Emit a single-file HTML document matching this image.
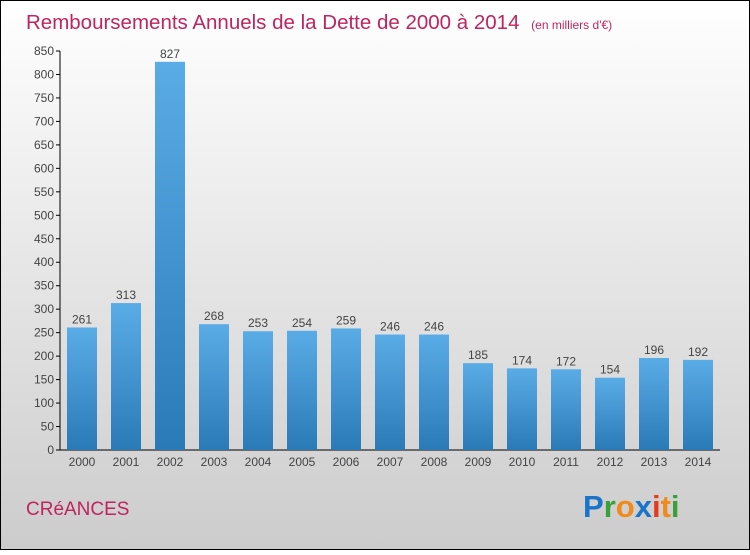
<!DOCTYPE html>
<html><head><meta charset="utf-8"><style>
html,body{margin:0;padding:0}
body{width:750px;height:550px;overflow:hidden;font-family:"Liberation Sans",sans-serif}
</style></head><body>
<svg width="750" height="550" xmlns="http://www.w3.org/2000/svg">
<defs>
<linearGradient id="bg" x1="0" y1="0" x2="0" y2="1"><stop offset="0" stop-color="#ffffff"/><stop offset="1" stop-color="#cccccc"/></linearGradient>
<linearGradient id="bar" x1="0" y1="0" x2="0" y2="1"><stop offset="0" stop-color="#5aace6"/><stop offset="1" stop-color="#2a7ab8"/></linearGradient>
</defs>
<rect x="0.5" y="0.5" width="749" height="549" fill="url(#bg)" stroke="#000"/>
<text x="26" y="29" font-size="20.5" fill="#c0245e">Remboursements Annuels de la Dette de 2000 à 2014 <tspan font-size="12" dx="6">(en milliers d'€)</tspan></text>
<g id="axes"></g>
<g id="bars"></g>
<text x="26" y="515" font-size="19" fill="#c0245e">CRéANCES</text>
<text x="583" y="517" font-size="31" font-weight="bold"><tspan fill="#1a75c8">P</tspan><tspan fill="#3aa03a">r</tspan><tspan fill="#f08a1a">o</tspan><tspan fill="#1a75c8">x</tspan><tspan fill="#e83a1a">i</tspan><tspan fill="#f08a1a">t</tspan><tspan fill="#3aa03a">i</tspan></text>
</svg>
<script>
const years=["2000","2001","2002","2003","2004","2005","2006","2007","2008","2009","2010","2011","2012","2013","2014"];
const values=[261,313,827,268,253,254,259,246,246,185,174,172,154,196,192];
const ticks=[0,50,100,150,200,250,300,350,400,450,500,550,600,650,700,750,800,850];
const NS="http://www.w3.org/2000/svg";
const y=v=>450-v*(399/850);
const x=i=>67+i*44;
function mk(t,a,p){const e=document.createElementNS(NS,t);for(const k in a)e.setAttribute(k,a[k]);p.appendChild(e);return e;}
const ax=document.getElementById('axes'),bg=document.getElementById('bars');
let l=mk('line',{x1:60,y1:51,x2:60,y2:450,stroke:'#000'},ax);


l=mk('line',{x1:60,y1:450,x2:720,y2:450,stroke:'#000'},ax);


ticks.forEach(t=>{
 const tk=mk('line',{x1:56,x2:60,y1:y(t),y2:y(t),stroke:'#000'},ax);
 
 
 const tx=mk('text',{x:54,y:y(t)+4,'text-anchor':'end','font-size':12,fill:'#444'},ax);
 tx.textContent=t;
 
 
});
values.forEach((v,i)=>{
 const r=mk('rect',{x:x(i),y:y(v),width:30,height:450-y(v),fill:'url(#bar)'},bg);
 
 
 const t=mk('text',{x:x(i)+15,y:y(v)-4,'text-anchor':'middle','font-size':12,fill:'#444'},bg);
 t.textContent=v;
 
 
 const xl=mk('text',{x:x(i)+15,y:466,'text-anchor':'middle','font-size':12,fill:'#444'},bg);
 xl.textContent=years[i];
 
 
});
</script>
</body></html>
